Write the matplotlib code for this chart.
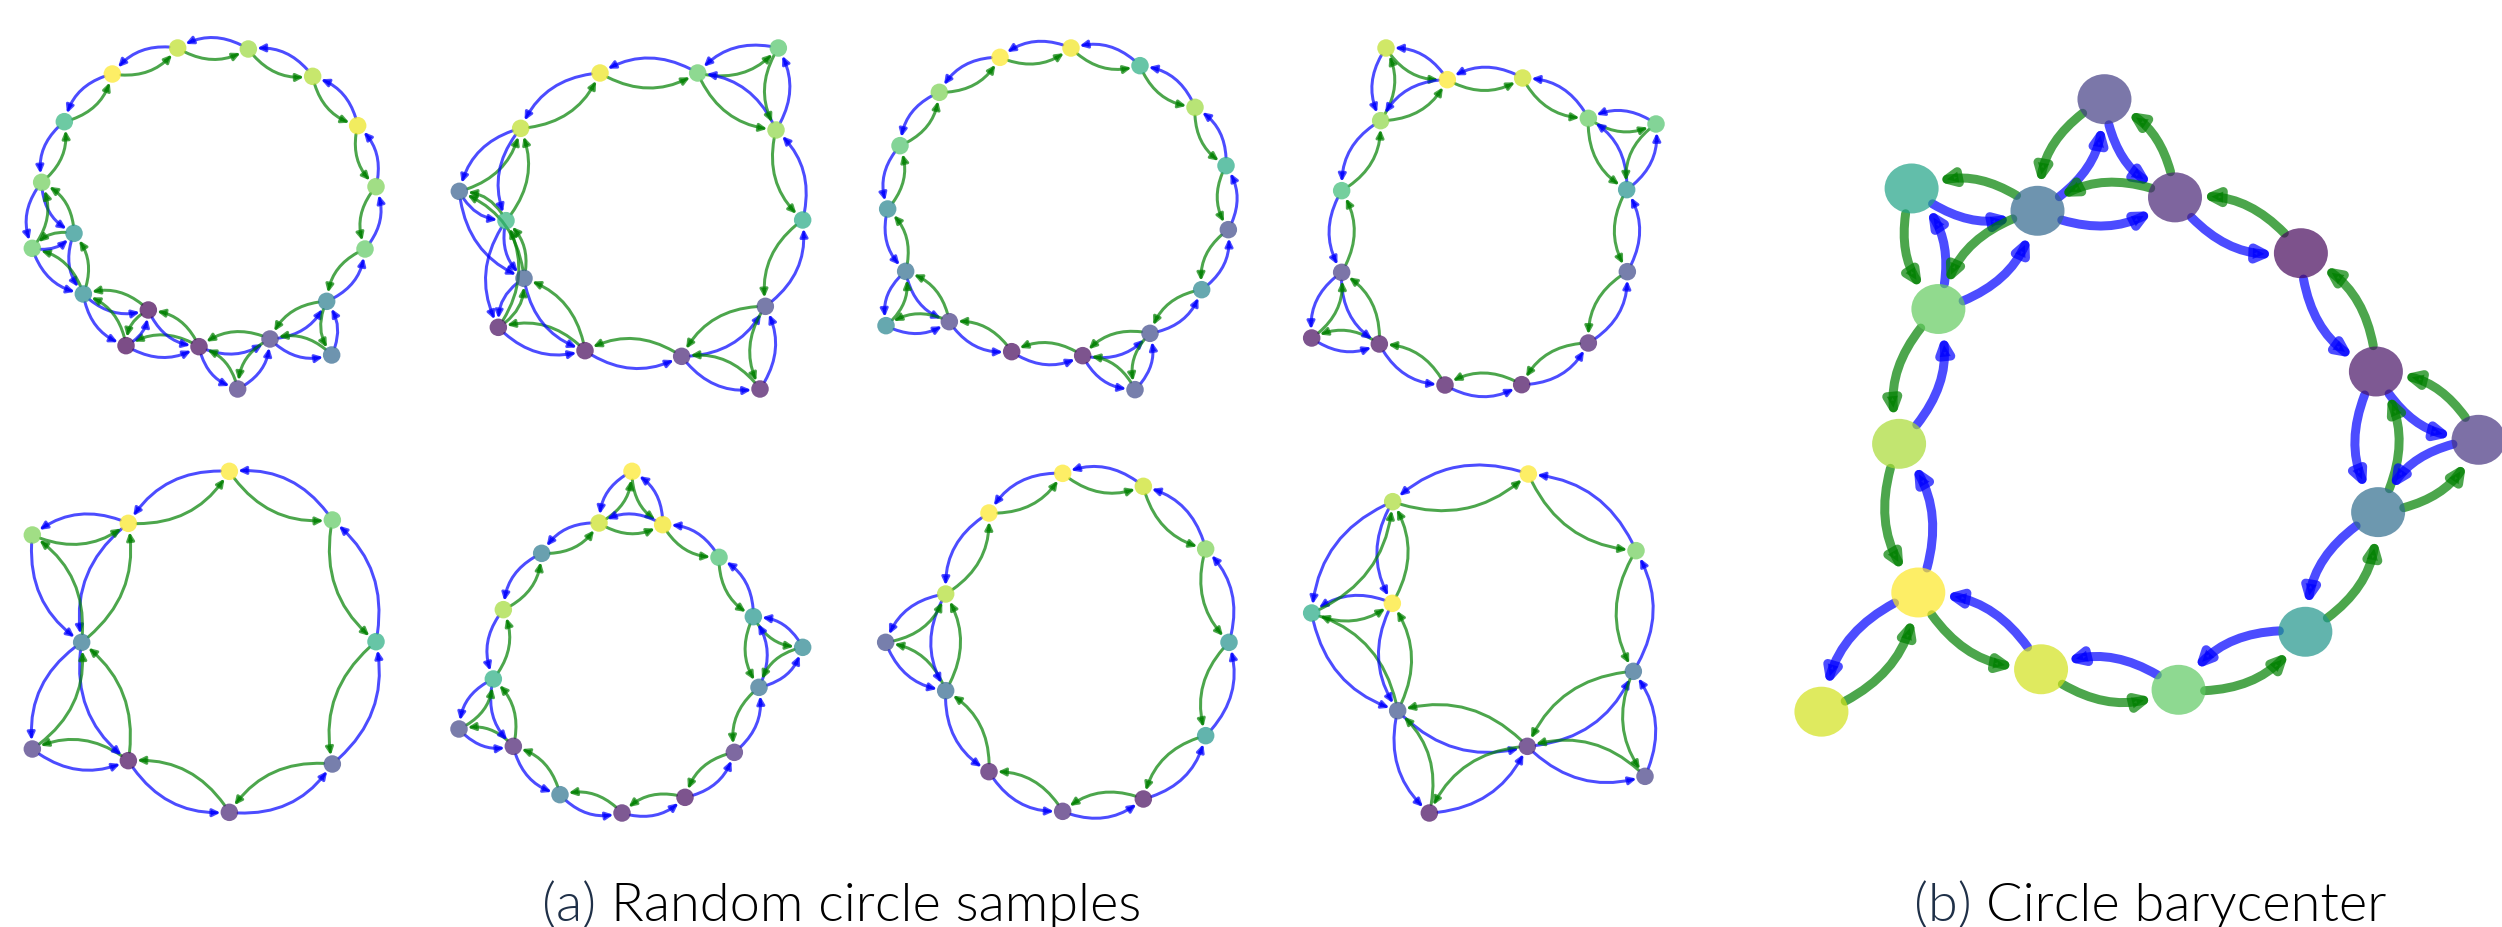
import numpy as np
import matplotlib
matplotlib.use("Agg")
import matplotlib.pyplot as plt
from matplotlib.patches import FancyArrowPatch, ArrowStyle
from matplotlib.path import Path
from matplotlib.markers import MarkerStyle
from matplotlib.transforms import Affine2D

# ---------------- data: node positions (graph-local units), colour values, blue edges (from->to) ----
g1_x = [533, 745, 337, 938, 193, 1073, 125, 1128, 222, 97, 1095, 250, 980, 445, 378, 597, 810, 995, 713]
g1_y = [147, 150, 225, 232, 368, 380, 550, 563, 703, 748, 750, 885, 907, 933, 1040, 1043, 1020, 1068, 1170]
g1_c = [0.9, 0.85, 1.0, 0.88, 0.65, 0.97, 0.78, 0.8, 0.5, 0.75, 0.75, 0.47, 0.42, 0.0, 0.0, 0.02, 0.17, 0.33, 0.15]
g1_e = ["AC", "BA", "DB", "FD", "HF", "KH", "MK", "QM", "RM", "QR", "PQ", "SQ", "PS", "OP", "NP", "ON",
        "LN", "LO", "IL", "JL", "JI", "GI", "GJ", "EG", "CE"]

g2_x = [510, 803, 1045, 1038, 272, 88, 228, 1118, 282, 1006, 205, 465, 755, 990]
g2_y = [222, 222, 147, 393, 388, 577, 665, 663, 838, 922, 985, 1055, 1072, 1170]
g2_c = [0.97, 0.75, 0.73, 0.83, 0.9, 0.3, 0.65, 0.6, 0.27, 0.2, 0.03, 0.02, 0.1, 0.04]
g2_e = ["BA", "AE", "CB", "DB", "DC", "HD", "JH", "MJ", "NJ", "MN", "LM", "KL", "IL", "IK", "GK", "GI",
        "FG", "FI", "EF", "EG"]

g3_x = [420, 633, 840, 238, 1005, 120, 1098, 83, 1105, 137, 1025, 78, 268, 870, 455, 668, 825]
g3_y = [175, 147, 200, 280, 325, 440, 500, 630, 692, 817, 872, 980, 968, 1003, 1058, 1070, 1172]
g3_c = [1.0, 0.98, 0.62, 0.8, 0.85, 0.72, 0.6, 0.45, 0.22, 0.35, 0.45, 0.45, 0.17, 0.22, 0.02, 0.03, 0.22]
g3_e = ["BA", "CB", "EC", "GE", "IG", "KI", "NK", "PN", "QN", "PQ", "OP", "MO", "JM", "LM", "JL", "HJ",
        "FH", "DF", "AD"]

g4_x = [318, 502, 728, 302, 925, 1128, 185, 1040, 185, 1042, 95, 298, 925, 495, 725]
g4_y = [147, 242, 237, 365, 358, 375, 575, 572, 820, 818, 1017, 1035, 1032, 1158, 1157]
g4_c = [0.9, 1.0, 0.92, 0.83, 0.76, 0.72, 0.68, 0.5, 0.17, 0.22, 0.03, 0.03, 0.07, 0.03, 0.03]
g4_e = ["BA", "AD", "BD", "CB", "EC", "FE", "HE", "HF", "JH", "MJ", "OM", "NO", "LN", "KL", "IL", "IK",
        "GI", "DG"]

g5_x = [688, 385, 97, 997, 245, 1128, 97, 385, 997, 688]
g5_y = [97, 253, 288, 243, 610, 608, 930, 965, 975, 1120]
g5_c = [1.0, 0.99, 0.8, 0.75, 0.38, 0.62, 0.15, 0.02, 0.22, 0.1]
g5_e = ["AB", "DA", "FD", "IF", "JI", "HJ", "GH", "EH", "EG", "BE", "CE", "BC"]

g6_x = [606, 507, 698, 335, 867, 220, 970, 1118, 190, 987, 87, 250, 913, 390, 765, 576]
g6_y = [97, 252, 257, 343, 355, 512, 533, 625, 720, 745, 870, 922, 940, 1067, 1075, 1122]
g6_c = [1.0, 0.92, 0.98, 0.4, 0.7, 0.86, 0.52, 0.45, 0.62, 0.35, 0.2, 0.08, 0.12, 0.38, 0.03, 0.05]
g6_e = ["AB", "CA", "CB", "BD", "EC", "DF", "GE", "HG", "JG", "JH", "MJ", "OM", "PO", "NP", "LN", "KL",
        "IL", "IK", "FI"]

g7_x = [608, 850, 387, 1037, 257, 77, 1107, 257, 1037, 387, 850, 608]
g7_y = [103, 142, 222, 330, 465, 610, 610, 755, 890, 998, 1080, 1117]
g7_c = [1.0, 0.92, 1.0, 0.8, 0.88, 0.22, 0.5, 0.33, 0.52, 0.05, 0.03, 0.1]
g7_e = ["AC", "BA", "DB", "GD", "IG", "KI", "LK", "JL", "HJ", "FH", "EH", "EF", "CE"]

g8_x = [745, 338, 1068, 95, 337, 1060, 353, 742, 1095, 448]
g8_y = [105, 188, 335, 522, 493, 697, 815, 922, 1012, 1122]
g8_c = [1.0, 0.87, 0.78, 0.6, 1.0, 0.33, 0.25, 0.08, 0.18, 0.03]
g8_e = ["AB", "CA", "FC", "HF", "IF", "HI", "GH", "JH", "GJ", "DG", "EG", "ED", "BE", "BD"]

bary_x = [682, 250, 532, 840, 1122, 1290, 1520, 1295, 1132, 848, 540, 265, 48, 222, 310]
bary_y = [90, 290, 340, 310, 435, 700, 853, 1015, 1283, 1413, 1367, 1195, 1462, 862, 560]
bary_c = [0.18, 0.58, 0.33, 0.1, 0.02, 0.05, 0.15, 0.35, 0.52, 0.75, 0.93, 1.0, 0.93, 0.87, 0.76]
bary_e = ["OB", "BC", "OC", "CA", "AD", "CD", "DE", "EF", "FG", "FH", "GH", "HI", "IJ", "JK", "KL",
          "LM", "LN", "NO"]

cap_labels = ["(a)", "(b)"]
cap_texts = ["Random circle samples", "Circle barycenter"]

# ---------------- layout ----------------
W, H = 2502, 928
fig = plt.figure(figsize=(W / 100, H / 100), dpi=100)
ax = fig.add_axes([0, 0, 1, 1])
ax.set_xlim(0, W)
ax.set_ylim(H, 0)
ax.axis("off")

cmap = plt.get_cmap("viridis")
PX = 72.0 / 100.0  # points per pixel


def draw_graph(xs, ys, cs, edges, origin, scale, node_px, lw_px, ms, hl, hw, ellipse=1.0):
    ox, oy = origin
    X = ox + np.asarray(xs, float) * scale
    Y = oy + np.asarray(ys, float) * scale
    if ellipse != 1.0:
        circ = Path.unit_circle()
        marker = MarkerStyle(circ.transformed(Affine2D().scale(1.0, ellipse)))
    else:
        marker = "o"
    s = (node_px * PX) ** 2
    ax.scatter(X, Y, s=s, c=[cmap(v) for v in cs], alpha=0.7, linewidths=0,
               marker=marker, zorder=2)
    r_pt = node_px * PX / 2.0 * (1.0 + ellipse) / 2.0
    for e in edges:
        u = ord(e[0]) - 65
        v = ord(e[1]) - 65
        for (a, b, col) in ((u, v, (0, 0, 1)), (v, u, (0, 0.5, 0))):
            arr = FancyArrowPatch((X[a], Y[a]), (X[b], Y[b]),
                                  arrowstyle=ArrowStyle("-|>", head_length=hl, head_width=hw),
                                  connectionstyle="arc3,rad=0.3",
                                  mutation_scale=ms, lw=lw_px * PX, color=col,
                                  alpha=0.7, shrinkA=r_pt, shrinkB=r_pt, zorder=1)
            ax.add_patch(arr)


small = [
    (g1_x, g1_y, g1_c, g1_e, (0, 0)),
    (g2_x, g2_y, g2_c, g2_e, (430, 0)),
    (g3_x, g3_y, g3_c, g3_e, (860, 0)),
    (g4_x, g4_y, g4_c, g4_e, (1280, 0)),
    (g5_x, g5_y, g5_c, g5_e, (0, 440)),
    (g6_x, g6_y, g6_c, g6_e, (430, 440)),
    (g7_x, g7_y, g7_c, g7_e, (860, 440)),
    (g8_x, g8_y, g8_c, g8_e, (1280, 440)),
]
for xs, ys, cs, es, org in small:
    draw_graph(xs, ys, cs, es, org, 1 / 3.0, node_px=17.5, lw_px=3.0, ms=10, hl=0.45, hw=0.22)

draw_graph(bary_x, bary_y, bary_c, bary_e, (1800, 60), 700.0 / 1568.0, node_px=54, lw_px=9.0,
           ms=20, hl=0.42, hw=0.2, ellipse=0.925)

# ---------------- captions ----------------
cap_kw = dict(fontsize=39, family=["Lato", "DejaVu Sans"], fontweight=300, va="baseline")
centers = [842, 2150]
base_y = 1 - 921 / H
fig.canvas.draw()
renderer = fig.canvas.get_renderer()
for lab, txt, cx in zip(cap_labels, cap_texts, centers):
    full = fig.text(cx / W, base_y, lab + " " + txt, ha="center", color="black", **cap_kw)
    bb = full.get_window_extent(renderer=renderer)
    full.set_visible(False)
    t1 = fig.text(bb.x0 / W, base_y, lab + " ", ha="left", color="#1f3048", **cap_kw)
    bb1 = t1.get_window_extent(renderer=renderer)
    fig.text(bb1.x1 / W, base_y, txt, ha="left", color="black", **cap_kw)

fig.savefig("out.png", dpi=100, facecolor="white")
